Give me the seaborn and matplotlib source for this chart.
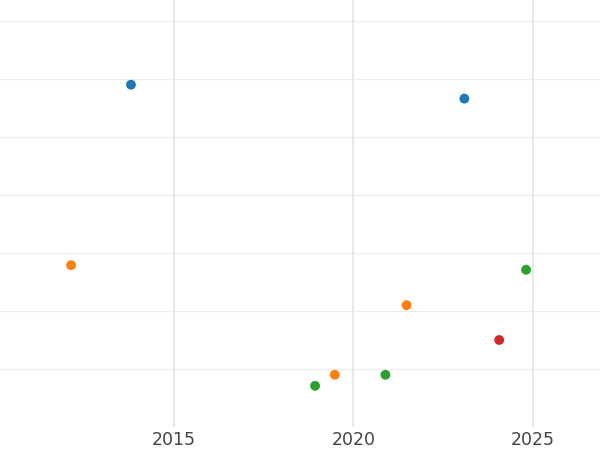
import matplotlib
matplotlib.use("Agg")
import matplotlib.pyplot as plt
import seaborn as sns
import pandas as pd

years = [2013.80, 2023.09, 2012.13, 2021.48, 2019.48, 2024.81, 2018.93, 2020.89, 2024.06]
values = [5.90, 5.66, 2.79, 2.10, 0.90, 2.71, 0.71, 0.90, 1.50]
groups = ["A", "A", "B", "B", "B", "C", "C", "C", "D"]
palette = ["#1f77b4", "#ff7f0e", "#2ca02c", "#d62728"]

df = pd.DataFrame({"year": years, "value": values, "group": groups})

sns.set_style("white")
fig = plt.figure(figsize=(6, 4.5), dpi=100)
ax = fig.add_axes([0, 0.0511, 1, 0.9489])
for y in range(1, 8):
    ax.axhline(y, color="#ececec", lw=0.8, zorder=0)
for x in [2015, 2020, 2025]:
    ax.axvline(x, color="#e6e6e6", lw=1.3, zorder=0)
sns.scatterplot(data=df, x="year", y="value", hue="group", palette=palette,
                s=50, edgecolor="none", legend=False, ax=ax, zorder=3)
ax.set_xlim(2010.15, 2026.87)
ax.set_ylim(0, 7.36)
ax.set_xticks([2015, 2020, 2025])
ax.set_yticks([])
ax.set_xlabel("")
ax.set_ylabel("")
ax.tick_params(axis="x", length=0, labelsize=12.5, labelcolor="#444444", pad=3)
for s in ax.spines.values():
    s.set_visible(False)
fig.savefig("out.png", dpi=100)
